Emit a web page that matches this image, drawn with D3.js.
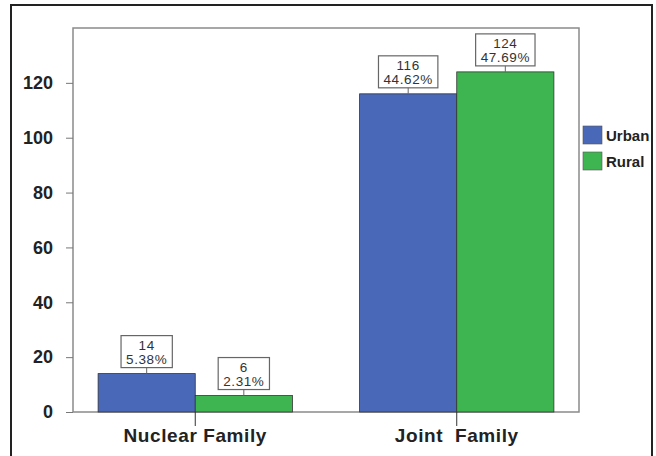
<!DOCTYPE html>
<html><head><meta charset="utf-8">
<script src="https://cdn.jsdelivr.net/npm/d3@7"></script>
<style>
html,body{margin:0;padding:0;background:#fff;}
text{font-family:"Liberation Sans",Arial,sans-serif;}
</style></head>
<body>
<svg id="c" width="656" height="456"></svg>
<script>
const categories = ["Nuclear Family", "Joint  Family"];
const seriesNames = ["Urban", "Rural"];
const urbanValues = [14, 116];
const ruralValues = [6, 124];
const urbanPct = ["5.38%", "44.62%"];
const ruralPct = ["2.31%", "47.69%"];
const yTicks = [0, 20, 40, 60, 80, 100, 120];
const colors = ["#4a68b8", "#3eb550"];

const svg = d3.select("#c");
const L = 73, R = 579, T = 28, B = 412;

// outer frame
svg.append("rect").attr("x", 11).attr("y", 5).attr("width", 641).attr("height", 460)
  .attr("fill", "#fff").attr("stroke", "#222").attr("stroke-width", 2);

const x0 = d3.scaleBand().domain(categories).range([L, R]).paddingInner(0.257).paddingOuter(0.096);
const x1 = d3.scaleBand().domain(seriesNames).range([0, x0.bandwidth()]);
const y = d3.scaleLinear().domain([0, 140]).range([B, T]);

// plot frame
svg.append("rect").attr("x", L).attr("y", T).attr("width", R - L).attr("height", B - T)
  .attr("fill", "#fff").attr("stroke", "#8a8a8a").attr("stroke-width", 1.5);

const data = categories.map((c, i) => ({
  cat: c,
  vals: [
    {s: "Urban", v: urbanValues[i], p: urbanPct[i]},
    {s: "Rural", v: ruralValues[i], p: ruralPct[i]}
  ]
}));

const g = svg.append("g");
data.forEach(d => {
  d.vals.forEach((e, j) => {
    const bx = x0(d.cat) + x1(e.s);
    g.append("rect").attr("x", bx).attr("y", y(e.v))
      .attr("width", x1.bandwidth()).attr("height", y(0) - y(e.v))
      .attr("fill", colors[j]).attr("stroke", "#333").attr("stroke-width", 0.8);
  });
});

// labels
data.forEach(d => {
  d.vals.forEach((e, j) => {
    const cx = x0(d.cat) + x1(e.s) + x1.bandwidth() / 2;
    const top = y(e.v);
    const lg = svg.append("g");
    const t1 = lg.append("text").attr("x", cx).attr("y", top - 23.5).attr("text-anchor", "middle")
      .attr("font-size", 13.5).attr("fill", "#333").attr("letter-spacing", 0.6).text(e.v);
    const t2 = lg.append("text").attr("x", cx).attr("y", top - 9.5).attr("text-anchor", "middle")
      .attr("font-size", 13.5).attr("fill", "#333").attr("letter-spacing", 0.6).text(e.p);
    const w = Math.max(t1.node().getComputedTextLength(), t2.node().getComputedTextLength()) + 10;
    lg.insert("rect", "text").attr("x", cx - w / 2).attr("y", top - 38).attr("width", w).attr("height", 32)
      .attr("fill", "#fff").attr("stroke", "#666").attr("stroke-width", 1.2);
    lg.append("line").attr("x1", cx).attr("x2", cx).attr("y1", top - 6).attr("y2", top)
      .attr("stroke", "#666").attr("stroke-width", 1);
  });
});

// y axis
const ya = svg.append("g").attr("transform", `translate(${L},0)`)
  .call(d3.axisLeft(y).tickValues(yTicks).tickSize(7).tickPadding(13));
ya.select(".domain").remove();
ya.selectAll(".tick line").attr("stroke", "#777");
ya.selectAll(".tick text").attr("font-size", 18).attr("font-weight", "bold").attr("fill", "#222")
  .attr("font-family", "Liberation Sans, Arial, sans-serif");

// x axis
const xa = svg.append("g").attr("transform", `translate(0,${B})`)
  .call(d3.axisBottom(x0).tickSize(14).tickPadding(3));
xa.select(".domain").remove();
xa.selectAll(".tick line").attr("stroke", "#333");
xa.selectAll(".tick text").attr("font-size", 19).attr("font-weight", "bold").attr("fill", "#222")
  .attr("letter-spacing", 0.6).style("white-space", "pre")
  .attr("font-family", "Liberation Sans, Arial, sans-serif");

// legend
const lgd = svg.append("g");
seriesNames.forEach((s, i) => {
  lgd.append("rect").attr("x", 583).attr("y", 126 + i * 26).attr("width", 19).attr("height", 18)
    .attr("fill", colors[i]).attr("stroke", "#555").attr("stroke-width", 0.6);
  lgd.append("text").attr("x", 606).attr("y", 141 + i * 26).attr("font-size", 15)
    .attr("font-weight", "bold").attr("fill", "#222").text(s);
});
</script>
</body></html>
